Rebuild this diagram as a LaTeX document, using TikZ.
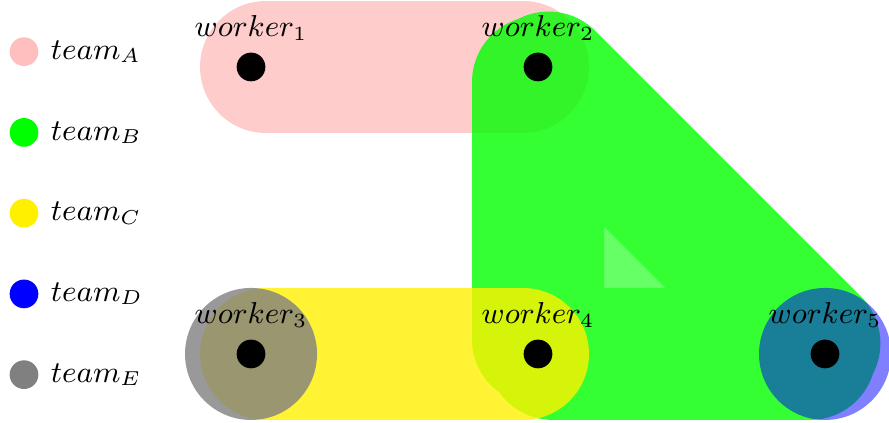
\documentclass[tikz,border=0pt]{standalone}
\usepackage{amsmath}
\usepackage{tikz}
\usetikzlibrary{positioning,backgrounds}
\definecolor{teamA}{rgb}{1,0.75,0.75}
\definecolor{teamB}{HTML}{00FF00}
\definecolor{teamC}{HTML}{FFF000}
\definecolor{teamD}{HTML}{0000FF}
\definecolor{teamE}{HTML}{808080}
\tikzset{
  worker/.style={circle,fill=black,inner sep=0pt,minimum size=3mm},
  legdot/.style={circle,inner sep=0pt,minimum size=3mm},
  hedge/.style={line width=13.8mm,line cap=round,line join=round,opacity=0.8},
}
\begin{document}
\begin{tikzpicture}[every label/.style={font=\small}]
  \useasboundingbox (-2.624,-0.721) rectangle (6.669,3.700);
  % workers
  \node[worker,label=above:$worker_1$] (w1) at (0,3) {};
  \node[worker,label=above:$worker_2$] (w2) at (3,3) {};
  \node[worker,label=above:$worker_3$] (w3) at (0,0) {};
  \node[worker,label=above:$worker_4$] (w4) at (3,0) {};
  \node[worker,label=above:$worker_5$] (w5) at (6,0) {};
  % legend
  \node[legdot,fill=teamA,label=right:$team_A$] (la) at (-2.373,3.16) {};
  \node[legdot,fill=teamB,below=5.3mm of la,label=right:$team_B$] (lb) {};
  \node[legdot,fill=teamC,below=5.3mm of lb,label=right:$team_C$] (lc) {};
  \node[legdot,fill=teamD,below=5.3mm of lc,label=right:$team_D$] (ld) {};
  \node[legdot,fill=teamE,below=5.3mm of ld,label=right:$team_E$] (le) {};
  % hyperedges
  \begin{scope}[on background layer]
    \draw[hedge,teamA] (w1) -- (w2);
    \begin{scope}[transparency group,opacity=0.8]
      \fill[teamB,opacity=0.75] (w2.center) -- (w4.center) -- (w5.center) -- cycle;
      \draw[hedge,teamB,opacity=1] (w2) -- (w4) -- (w5) -- (w2);
    \end{scope}
    \draw[hedge,teamC] (w3) -- (w4);
    \fill[teamE,opacity=0.8] (w3) circle (6.9mm);
    \fill[teamD,opacity=0.5] (w5) circle (6.9mm);
  \end{scope}
\end{tikzpicture}
\end{document}
